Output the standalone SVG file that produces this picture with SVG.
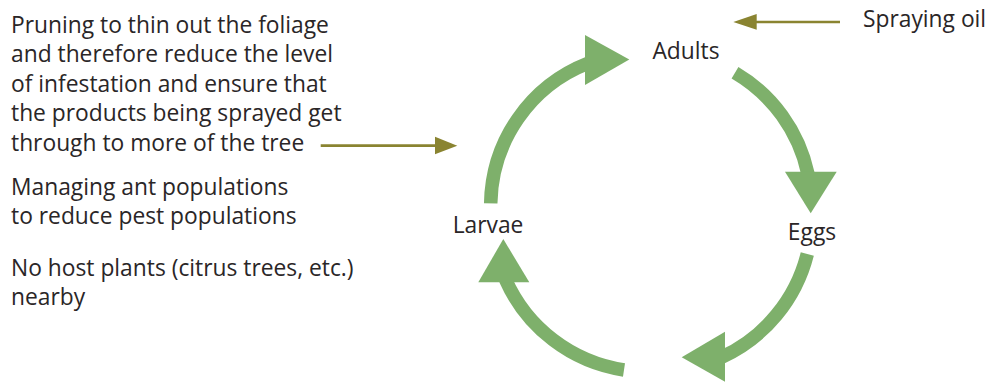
<svg xmlns="http://www.w3.org/2000/svg" width="992" height="383" viewBox="0 0 992 383">
<style>
text { font-family: "Open Sans", "Noto Sans", "Liberation Sans", sans-serif; font-size: 22.8px; fill: #2a2627; }
.lbl { text-anchor: middle; }
.arc { fill: none; stroke: #7eb06b; stroke-width: 13.5; }
.head { fill: #7eb06b; }
.ol { stroke: #8a8431; stroke-width: 2.7; fill: none; }
.olh { fill: #8a8431; }
</style>
<rect width="992" height="383" fill="#ffffff"/>
<g id="text-pruning">
<text x="11" y="33">Pruning to thin out the foliage</text>
<text x="11" y="62.3">and therefore reduce the level</text>
<text x="11" y="91.6">of infestation and ensure that</text>
<text x="11" y="120.9">the products being sprayed get</text>
<text x="11" y="150.5">through to more of the tree</text>
</g>
<g id="text-ants">
<text x="11" y="195">Managing ant populations</text>
<text x="11" y="224">to reduce pest populations</text>
</g>
<g id="text-hosts">
<text x="11" y="275.5">No host plants (citrus trees, etc.)</text>
<text x="11" y="304.5">nearby</text>
</g>
<g id="node-spraying"><text x="863" y="27">Spraying oil</text></g>
<g id="node-adults"><text class="lbl" x="686" y="58.5">Adults</text></g>
<g id="node-eggs"><text class="lbl" x="812" y="239.5">Eggs</text></g>
<g id="node-larvae"><text class="lbl" x="488" y="232.5">Larvae</text></g>
<g id="connectors">
<path class="arc" d="M490.7,203.3 A153,153 0 0 1 588,63.3"/>
<polygon class="head" points="585,35 629.3,59.5 585,85"/>
<path class="arc" d="M735,72.7 A155,155 0 0 1 808,174"/>
<polygon class="head" points="785,171.7 836.7,171.7 810.7,213.3"/>
<path class="arc" d="M807.3,254 A155,155 0 0 1 722,357"/>
<polygon class="head" points="725,331.7 725,381.7 681.7,357.3"/>
<path class="arc" d="M624,370 A155,155 0 0 1 505.5,279.5"/>
<polygon class="head" points="478.3,282.3 529.3,282.3 503.3,239"/>
<path class="ol" d="M840,22 H752"/>
<polygon class="olh" points="756.7,14 733.3,22 756.7,29.8"/>
<path class="ol" d="M320.7,145.7 H438"/>
<polygon class="olh" points="435,136.7 457.3,145.7 435,154.3"/>
</g>
</svg>
